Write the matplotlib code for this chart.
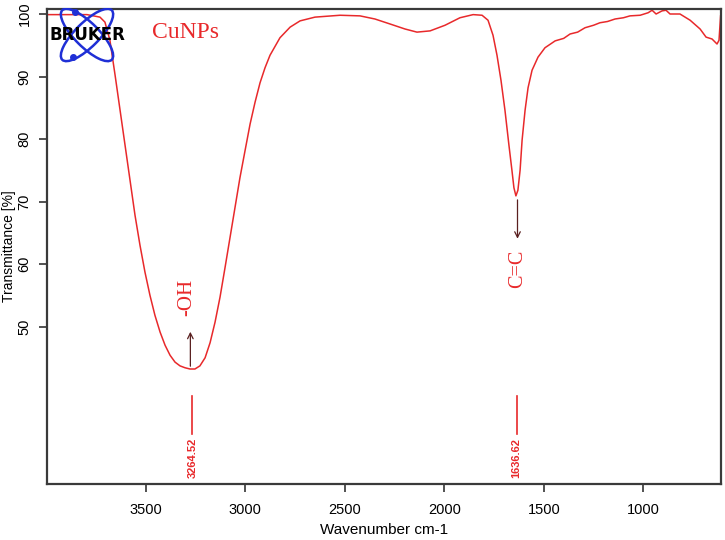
import matplotlib
matplotlib.use("Agg")
import matplotlib.pyplot as plt
from matplotlib.patches import Ellipse

# FTIR spectrum of CuNPs
wavenumber = [3995, 3794, 3729, 3704, 3679, 3653, 3628, 3603, 3578, 3553,
              3528, 3503, 3478, 3453, 3427, 3402, 3377, 3352, 3327, 3302,
              3277, 3252, 3227, 3201, 3176, 3151, 3126, 3101, 3076, 3051,
              3026, 3000, 2975, 2950, 2925, 2900, 2875, 2825, 2774, 2724,
              2649, 2523, 2423, 2348, 2272, 2197, 2137, 2071, 1996, 1921,
              1855, 1810, 1780, 1755, 1735, 1715, 1695, 1675, 1660, 1650,
              1640, 1630, 1619, 1609, 1594, 1579, 1559, 1529, 1494, 1443,
              1400, 1368, 1330, 1293, 1250, 1218, 1180, 1142, 1100, 1067,
              1016, 976, 956, 936, 906, 886, 866, 816, 765, 715,
              685, 655, 630, 620, 612]
transmittance = [99.9, 99.9, 99.5, 98.7, 95.8, 90.2, 84.6, 79.0, 73.4, 67.8,
                 63.0, 58.7, 55.0, 51.8, 49.1, 47.0, 45.4, 44.3, 43.7, 43.4,
                 43.2, 43.2, 43.7, 45.0, 47.4, 50.7, 54.7, 59.4, 64.2, 69.0,
                 73.8, 78.2, 82.4, 85.9, 89.0, 91.4, 93.4, 96.2, 97.9, 98.9,
                 99.5, 99.8, 99.7, 99.2, 98.4, 97.6, 97.1, 97.3, 98.2, 99.4,
                 99.9, 99.8, 99.0, 96.6, 93.4, 89.4, 84.6, 79.0, 75.0, 72.2,
                 70.9, 71.8, 75.0, 79.8, 84.6, 88.2, 91.0, 93.1, 94.6, 95.7,
                 96.1, 96.8, 97.1, 97.8, 98.2, 98.6, 98.8, 99.2, 99.4, 99.7,
                 99.8, 100.2, 100.6, 100.0, 100.5, 100.6, 100.0, 100.0, 99.0, 97.6,
                 96.3, 96.0, 95.2, 95.8, 99.7]

peak_positions = [3264.52, 1636.62]
peak_labels = ["3264.52", "1636.62"]
group_labels = ["-OH", "C=C"]

W, H = 725, 540
fig = plt.figure(figsize=(W / 100, H / 100), dpi=100)
ax = fig.add_axes([47 / W, 1 - 484 / H, 674 / W, 475 / H])

ax.plot(wavenumber, transmittance, color="#e8292b", lw=1.1)
ax.set_xlim(3995, 610)
ax.set_ylim(24.8, 100.8)

tick_font = "Liberation Sans"
ax.set_xticks([3500, 3000, 2500, 2000, 1500, 1000])
ax.set_yticks([50, 60, 70, 80, 90, 100])
for lab in ax.get_xticklabels() + ax.get_yticklabels():
    lab.set_family(tick_font)
    lab.set_fontsize(10.5)
for lab in ax.get_yticklabels():
    lab.set_rotation(90)
    lab.set_va("center")
ax.tick_params(axis="x", length=6, width=1.2, pad=8, color="#333333")
ax.tick_params(axis="y", length=6, width=1.2, pad=5, color="#333333")
for sp in ax.spines.values():
    sp.set_color("#3a3a3a")
    sp.set_linewidth(1.6)

ax.set_xlabel("Wavenumber cm-1", family=tick_font, fontsize=11, labelpad=4)
ax.set_ylabel("Transmittance [%]", family=tick_font, fontsize=10, labelpad=1)

# peak markers with wavenumber labels
for pos, lab in zip(peak_positions, peak_labels):
    ax.plot([pos, pos], [32.8, 38.9], color="#e8292b", lw=1.2)
    ax.text(pos, 32.2, lab, rotation=90, ha="center", va="top",
            color="#e8292b", fontsize=8, family="Liberation Sans",
            fontweight="bold")

# functional group annotations
serif = "Liberation Serif"
ax.annotate("", xy=(3275, 49.6), xytext=(3275, 43.2),
            arrowprops=dict(arrowstyle="->", color="#5a2020", lw=0.9))
ax.text(3292, 54.6, group_labels[0], rotation=90, ha="center", va="center",
        color="#e8292b", fontsize=15, family=serif)
ax.annotate("", xy=(1632, 63.6), xytext=(1632, 70.7),
            arrowprops=dict(arrowstyle="->", color="#5a2020", lw=0.9))
ax.text(1630, 59.2, group_labels[1], rotation=90, ha="center", va="center",
        color="#e8292b", fontsize=14.5, family=serif)

ax.text(3470, 97.1, "CuNPs", ha="left", va="center", color="#e8292b",
        fontsize=17, family=serif)

# Bruker logo, drawn in pixel units on an overlay axes
lx = fig.add_axes([47 / W, 1 - 64 / H, 85 / W, 56 / H], zorder=5)
lx.set_xlim(47, 132)
lx.set_ylim(64, 8)
lx.axis("off")
lx.patch.set_alpha(0)
for ang in (45, -45):
    lx.add_patch(Ellipse((87, 35), 70, 24, angle=ang, fill=False,
                         ec="#1f2fd6", lw=1.8))
lx.plot([75, 73], [12, 57], "o", color="#1f2fd6", ms=4)
lx.text(87, 35.5, "BRUKER", ha="center", va="center", fontsize=12,
        fontweight="bold", family="DejaVu Sans", color="black")

fig.savefig("out.png", dpi=100)
